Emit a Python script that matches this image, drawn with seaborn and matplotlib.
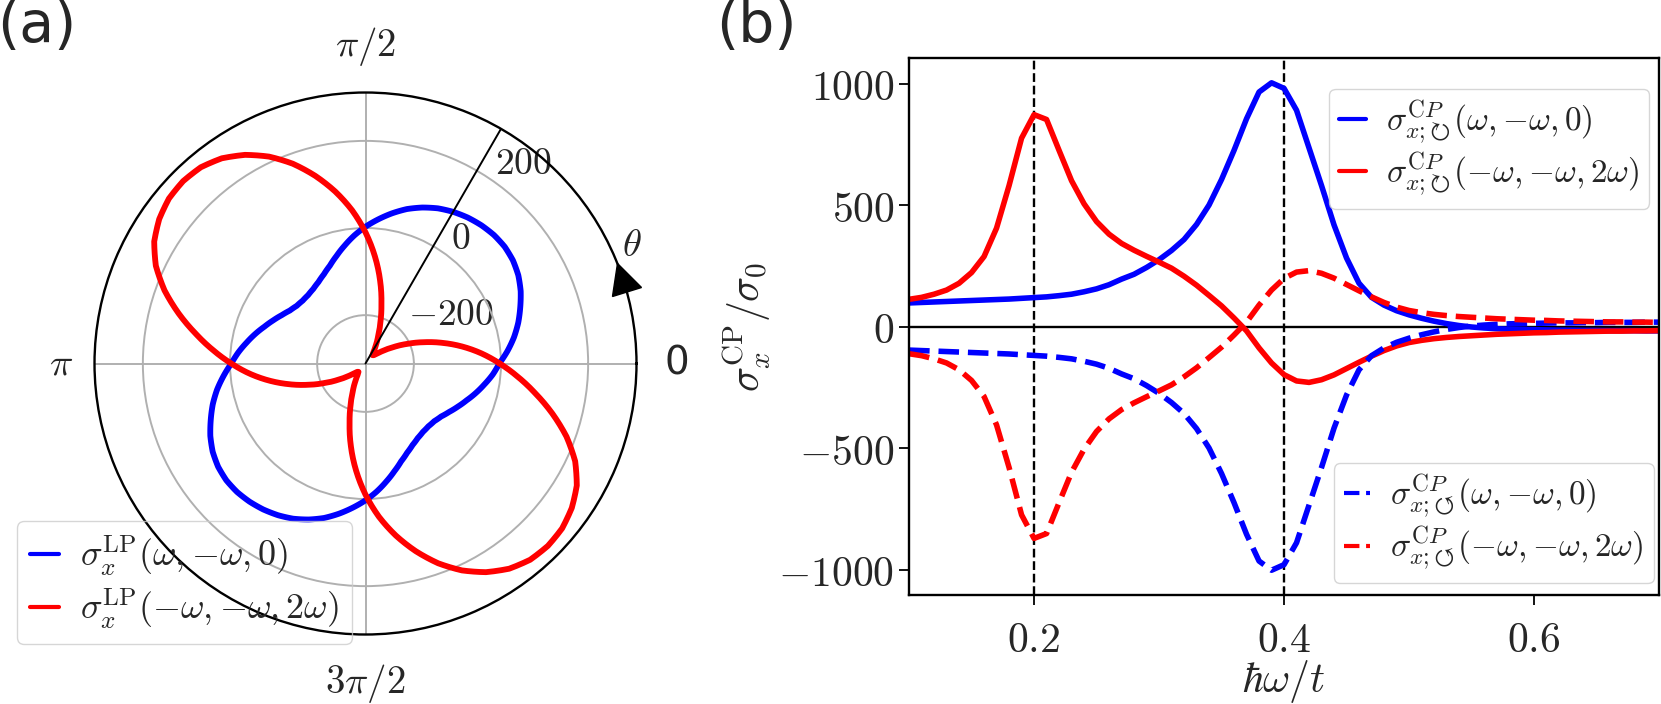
import numpy as np
import pandas as pd
import matplotlib
matplotlib.use("Agg")
import matplotlib.pyplot as plt
import seaborn as sns
from matplotlib.markers import MarkerStyle
from matplotlib.transforms import Affine2D, ScaledTranslation

# ---------------- data: panel (a), polar, theta in degrees (step 5) ----------------
theta_deg = np.arange(0, 361, 5)
lp_blue = [-4, 16, 35, 52, 67, 82, 94, 102, 106, 106, 103, 98, 91, 82, 70, 56, 39, 21,
           3, -16, -36, -55, -72, -85, -95, -102, -106, -107, -105, -99, -89, -77, -64, -49, -34, -18,
           -3, 16, 35, 52, 67, 82, 94, 102, 106, 106, 103, 98, 91, 82, 70, 56, 39, 21,
           3, -16, -36, -55, -72, -85, -95, -102, -106, -107, -105, -99, -89, -77, -64, -49, -34, -18,
           -4]
lp_red = [-3, -44, -86, -128, -168, -204, -234, -258, -275, -284, -286, -280, -265, -243, -212, -170, -118, -64,
          -10, 42, 90, 135, 177, 213, 242, 264, 277, 281, 278, 267, 249, 220, 180, 133, 85, 40,
          -3, -44, -86, -128, -168, -204, -234, -258, -275, -284, -286, -280, -265, -243, -212, -170, -118, -64,
          -10, 42, 90, 135, 177, 213, 242, 264, 277, 281, 278, 267, 249, 220, 180, 133, 85, 40,
          -3]

# ---------------- data: panel (b), hbar*omega/t from 0.10 to 0.70 (step 0.01) ----------------
omega = np.round(np.arange(0.10, 0.7001, 0.01), 2)
cp_blue_cw = [97, 99, 101, 103, 105, 107, 109, 111, 113, 116,
              119, 122, 127, 133, 143, 155, 172, 195, 215, 243,
              275, 313, 358, 420, 500, 605, 725, 855, 965, 1003,
              980, 890, 735, 580, 418, 282, 178, 120, 88, 65,
              48, 34, 22, 12, 4, -2, -6, -9, -11, -12,
              -13, -14, -15, -15, -16, -16, -17, -17, -17, -18,
              -18]
cp_red_cw = [112, 120, 133, 150, 178, 222, 288, 405, 580, 775,
             872, 852, 725, 600, 505, 432, 380, 342, 314, 289,
             265, 240, 207, 170, 128, 85, 35, -18, -88, -150,
             -198, -224, -230, -219, -199, -173, -147, -122, -99, -80,
             -66, -57, -50, -45, -41, -38, -35, -32, -30, -28,
             -26, -25, -23, -22, -21, -20, -19, -19, -18, -18,
             -17]
cp_blue_ccw = [-97, -99, -101, -103, -105, -107, -109, -111, -113, -116,
               -119, -122, -127, -133, -143, -155, -172, -195, -215, -243,
               -275, -313, -358, -420, -500, -605, -725, -855, -965, -1003,
               -980, -890, -735, -580, -418, -282, -178, -120, -88, -65,
               -48, -34, -22, -12, -4, 2, 6, 9, 11, 12,
               13, 14, 15, 15, 16, 16, 17, 17, 17, 18,
               18]
cp_red_ccw = [-112, -120, -133, -150, -178, -222, -288, -405, -580, -775,
              -872, -852, -725, -600, -505, -432, -380, -342, -314, -289,
              -265, -240, -207, -170, -128, -85, -35, 18, 88, 150,
              198, 224, 230, 219, 199, 173, 147, 122, 99, 80,
              66, 57, 50, 45, 41, 38, 35, 32, 30, 28,
              26, 25, 23, 22, 21, 20, 19, 19, 18, 18,
              17]

rticks = [-200, 0, 200]
rtick_labels = [r"$-200$", r"$0$", r"$200$"]
theta_ticks = [0, 90, 180, 270]
theta_labels = ["0", r"$\pi/2$", r"$\pi$", r"$3\pi/2$"]
xticks = [0.2, 0.4, 0.6]
xtick_labels = [r"$0.2$", r"$0.4$", r"$0.6$"]
yticks = [-1000, -500, 0, 500, 1000]
ytick_labels = [r"$-1000$", r"$-500$", r"$0$", r"$500$", r"$1000$"]
resonances = [0.2, 0.4]

lab_lp = [r"$\sigma_x^{\mathrm{LP}}(\omega,{-}\omega,0)$",
          r"$\sigma_x^{\mathrm{LP}}({-}\omega,{-}\omega,2\omega)$"]
lab_cw = [r"$\sigma^{\mathrm{C}P}_{x;↻}(\omega,{-}\omega,0)$",
          r"$\sigma^{\mathrm{C}P}_{x;↻}({-}\omega,{-}\omega,2\omega)$"]
lab_ccw = [r"$\sigma^{\mathrm{C}P}_{x;↺}(\omega,{-}\omega,0)$",
           r"$\sigma^{\mathrm{C}P}_{x;↺}({-}\omega,{-}\omega,2\omega)$"]

BLUE = "#0000ff"
RED = "#ff0000"

sns.set_theme(style="white")
plt.rcParams["font.family"] = ["DejaVu Sans"]
plt.rcParams["mathtext.fontset"] = "cm"
plt.rcParams["axes.unicode_minus"] = True

fig = plt.figure(figsize=(16.61, 7.04), dpi=100)

# ---------------- panel (a) ----------------
axp = fig.add_axes([0.0569, 0.0987, 0.3263, 0.7699], projection="polar")
th = np.deg2rad(theta_deg)
df_a = pd.DataFrame({"theta": th, "blue": lp_blue, "red": lp_red})
sns.lineplot(data=df_a, x="theta", y="blue", ax=axp, color=BLUE, lw=4.2,
             sort=False, estimator=None, label=lab_lp[0])
sns.lineplot(data=df_a, x="theta", y="red", ax=axp, color=RED, lw=4.2,
             sort=False, estimator=None, label=lab_lp[1])
for ln in axp.get_lines():
    ln.get_path()._interpolation_steps = 12   # draw polar segments along the polar grid
axp.set_xlabel("")
axp.set_ylabel("")
axp.set_ylim(-311, 311)
axp.set_thetagrids(theta_ticks, labels=theta_labels, fontsize=28)
axp.set_rgrids(rticks, labels=rtick_labels, angle=60, fontsize=27)
axp.grid(True, color="#b0b0b0", lw=1.4)
axp.spines["polar"].set_color("black")
axp.spines["polar"].set_linewidth(1.7)
axp.tick_params(axis="x", pad=20)
shift = ScaledTranslation(0.18, -0.11, fig.dpi_scale_trans)
for lab in axp.get_yticklabels():
    lab.set_transform(lab.get_transform() + shift)
theta_shifts = [(-0.05, 0.0), (0.0, 0.0), (0.12, 0.0), (0.0, -0.03)]
for lab, (sx, sy) in zip(axp.get_xticklabels(), theta_shifts):
    lab.set_transform(lab.get_transform() + ScaledTranslation(sx, sy, fig.dpi_scale_trans))
axp.axvline(np.deg2rad(60), color="black", lw=1.4)
arrow_ang = 18.6
axp.plot(np.deg2rad(arrow_ang), 311, marker=MarkerStyle("^", transform=Affine2D().rotate_deg(arrow_ang)),
         ms=22, color="black", clip_on=False, zorder=5)
axp.text(np.deg2rad(24), 357, r"$\theta$", fontsize=28, ha="center", va="center")
leg_a = axp.legend(loc="lower left", bbox_to_anchor=(17 / 1661, 1 - 644 / 704),
                   bbox_transform=fig.transFigure, borderaxespad=0, fontsize=26,
                   handlelength=0.8, handletextpad=0.6, labelspacing=0.25, borderpad=0.35,
                   fancybox=True)
leg_a.get_frame().set_facecolor("none")
leg_a.get_frame().set_edgecolor("0.8")
for h in leg_a.legend_handles:
    h.set_linewidth(3.0)

# ---------------- panel (b) ----------------
axr = fig.add_axes([0.5473, 0.1548, 0.4515, 0.7628])
df_b = pd.DataFrame({"w": omega, "bcw": cp_blue_cw, "rcw": cp_red_cw,
                     "bccw": cp_blue_ccw, "rccw": cp_red_ccw})
for xv in resonances:
    axr.axvline(xv, color="black", ls="--", lw=1.7, zorder=1)
axr.axhline(0, color="black", lw=1.7, zorder=1)
sns.lineplot(data=df_b, x="w", y="bcw", ax=axr, color=BLUE, lw=4.0, sort=False, estimator=None, label=lab_cw[0])
sns.lineplot(data=df_b, x="w", y="rcw", ax=axr, color=RED, lw=4.0, sort=False, estimator=None, label=lab_cw[1])
sns.lineplot(data=df_b, x="w", y="bccw", ax=axr, color=BLUE, lw=4.0, ls="--", sort=False, estimator=None, label=lab_ccw[0])
sns.lineplot(data=df_b, x="w", y="rccw", ax=axr, color=RED, lw=4.0, ls="--", sort=False, estimator=None, label=lab_ccw[1])
lines = [l for l in axr.get_lines() if l.get_label() in lab_cw + lab_ccw]
axr.set_xlim(0.1, 0.7)
axr.set_ylim(-1105, 1105)
axr.set_xticks(xticks)
axr.set_xticklabels(xtick_labels)
axr.set_yticks(yticks)
axr.set_yticklabels(ytick_labels)
axr.tick_params(axis="both", direction="out", length=7, width=1.3, labelsize=30, color="black",
                bottom=True, left=True)
axr.tick_params(axis="x", pad=10)
for s in axr.spines.values():
    s.set_color("black")
    s.set_linewidth(1.7)
axr.set_xlabel(r"$\hbar\omega/t$", fontsize=30, labelpad=-2)
axr.set_ylabel(r"$\sigma_x^{\mathrm{CP}}/\sigma_0$", fontsize=30, labelpad=4)
leg_kw = dict(borderaxespad=0, fontsize=24, handlelength=0.8, handletextpad=0.6,
              labelspacing=0.12, borderpad=0.3)
leg1 = axr.legend(handles=lines[:2], labels=lab_cw, loc="upper right",
                  bbox_to_anchor=(0.987, 0.943), **leg_kw)
for h in leg1.legend_handles:
    h.set_linewidth(3.0)
axr.add_artist(leg1)
leg2 = axr.legend(handles=lines[2:], labels=lab_ccw, loc="lower right",
                  bbox_to_anchor=(0.993, 0.022), **leg_kw)
for h in leg2.legend_handles:
    h.set_linewidth(3.0)

fig.text(-0.002, 0.94, "(a)", fontsize=41, ha="left", va="baseline")
fig.text(0.431, 0.94, "(b)", fontsize=41, ha="left", va="baseline")

fig.savefig("out.png", dpi=100)
